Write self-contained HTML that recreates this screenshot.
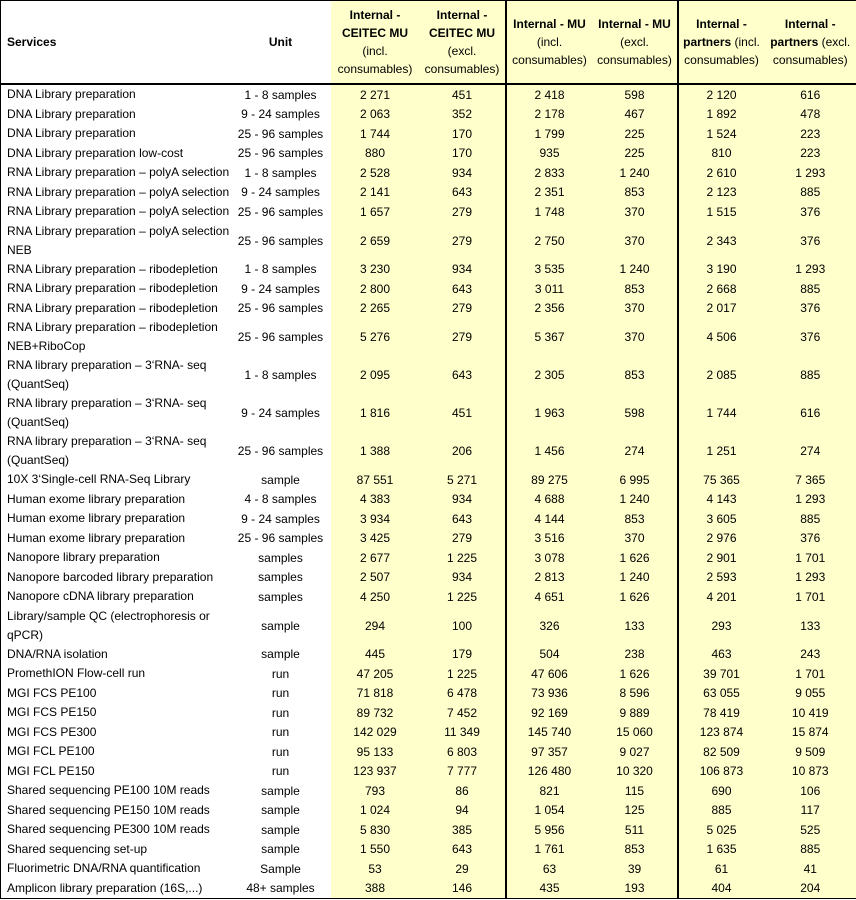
<!DOCTYPE html>
<html><head><meta charset="utf-8"><style>
body{margin:0;background:#fff;width:856px;height:900px;overflow:hidden}
table{position:absolute;left:0;top:0;border-collapse:collapse;table-layout:fixed;width:856px;font-family:"Liberation Sans",sans-serif;font-size:12px;color:#000;border:1px solid #000}
td{padding:0;white-space:nowrap;text-align:center;line-height:18px;vertical-align:middle;overflow:hidden}
td:nth-child(n+3){background:#ffffcc}
td:nth-child(1){text-align:left;padding-left:6px;white-space:normal;line-height:19px}
td:nth-child(4),td:nth-child(6){border-right:2px solid #000}
tr.h td{border-bottom:2px solid #000;height:82px;font-size:12px}
tr td{height:19.5px}
tr.d td{height:37.7px}
b{font-weight:bold}
</style></head><body>
<table>
<colgroup><col style="width:230px"><col style="width:100px"><col style="width:89px"><col style="width:86px"><col style="width:87px"><col style="width:85px"><col style="width:87px"><col style="width:92px"></colgroup>
<tr class="h"><td><b>Services</b></td><td><b>Unit</b></td><td><b>Internal -<br>CEITEC MU</b><br>(incl.<br>consumables)</td><td><b>Internal -<br>CEITEC MU</b><br>(excl.<br>consumables)</td><td><b>Internal - MU</b><br>(incl.<br>consumables)</td><td><b>Internal - MU</b><br>(excl.<br>consumables)</td><td><b>Internal -</b><br><b>partners</b> (incl.<br>consumables)</td><td><b>Internal -</b><br><b>partners</b> (excl.<br>consumables)</td></tr>
<tr><td>DNA Library preparation</td><td>1 - 8 samples</td><td>2 271</td><td>451</td><td>2 418</td><td>598</td><td>2 120</td><td>616</td></tr>
<tr><td>DNA Library preparation</td><td>9 - 24 samples</td><td>2 063</td><td>352</td><td>2 178</td><td>467</td><td>1 892</td><td>478</td></tr>
<tr><td>DNA Library preparation</td><td>25 - 96 samples</td><td>1 744</td><td>170</td><td>1 799</td><td>225</td><td>1 524</td><td>223</td></tr>
<tr><td>DNA Library preparation low-cost</td><td>25 - 96 samples</td><td>880</td><td>170</td><td>935</td><td>225</td><td>810</td><td>223</td></tr>
<tr><td>RNA Library preparation – polyA selection</td><td>1 - 8 samples</td><td>2 528</td><td>934</td><td>2 833</td><td>1 240</td><td>2 610</td><td>1 293</td></tr>
<tr><td>RNA Library preparation – polyA selection</td><td>9 - 24 samples</td><td>2 141</td><td>643</td><td>2 351</td><td>853</td><td>2 123</td><td>885</td></tr>
<tr><td>RNA Library preparation – polyA selection</td><td>25 - 96 samples</td><td>1 657</td><td>279</td><td>1 748</td><td>370</td><td>1 515</td><td>376</td></tr>
<tr class="d"><td>RNA Library preparation – polyA selection NEB</td><td>25 - 96 samples</td><td>2 659</td><td>279</td><td>2 750</td><td>370</td><td>2 343</td><td>376</td></tr>
<tr><td>RNA Library preparation – ribodepletion</td><td>1 - 8 samples</td><td>3 230</td><td>934</td><td>3 535</td><td>1 240</td><td>3 190</td><td>1 293</td></tr>
<tr><td>RNA Library preparation – ribodepletion</td><td>9 - 24 samples</td><td>2 800</td><td>643</td><td>3 011</td><td>853</td><td>2 668</td><td>885</td></tr>
<tr><td>RNA Library preparation – ribodepletion</td><td>25 - 96 samples</td><td>2 265</td><td>279</td><td>2 356</td><td>370</td><td>2 017</td><td>376</td></tr>
<tr class="d"><td>RNA Library preparation – ribodepletion NEB+RiboCop</td><td>25 - 96 samples</td><td>5 276</td><td>279</td><td>5 367</td><td>370</td><td>4 506</td><td>376</td></tr>
<tr class="d"><td>RNA library preparation – 3‘RNA- seq (QuantSeq)</td><td>1 - 8 samples</td><td>2 095</td><td>643</td><td>2 305</td><td>853</td><td>2 085</td><td>885</td></tr>
<tr class="d"><td>RNA library preparation – 3‘RNA- seq (QuantSeq)</td><td>9 - 24 samples</td><td>1 816</td><td>451</td><td>1 963</td><td>598</td><td>1 744</td><td>616</td></tr>
<tr class="d"><td>RNA library preparation – 3‘RNA- seq (QuantSeq)</td><td>25 - 96 samples</td><td>1 388</td><td>206</td><td>1 456</td><td>274</td><td>1 251</td><td>274</td></tr>
<tr><td>10X 3‘Single-cell RNA-Seq Library</td><td>sample</td><td>87 551</td><td>5 271</td><td>89 275</td><td>6 995</td><td>75 365</td><td>7 365</td></tr>
<tr><td>Human exome library preparation</td><td>4 - 8 samples</td><td>4 383</td><td>934</td><td>4 688</td><td>1 240</td><td>4 143</td><td>1 293</td></tr>
<tr><td>Human exome library preparation</td><td>9 - 24 samples</td><td>3 934</td><td>643</td><td>4 144</td><td>853</td><td>3 605</td><td>885</td></tr>
<tr><td>Human exome library preparation</td><td>25 - 96 samples</td><td>3 425</td><td>279</td><td>3 516</td><td>370</td><td>2 976</td><td>376</td></tr>
<tr><td>Nanopore library preparation</td><td>samples</td><td>2 677</td><td>1 225</td><td>3 078</td><td>1 626</td><td>2 901</td><td>1 701</td></tr>
<tr><td>Nanopore barcoded library preparation</td><td>samples</td><td>2 507</td><td>934</td><td>2 813</td><td>1 240</td><td>2 593</td><td>1 293</td></tr>
<tr><td>Nanopore cDNA library preparation</td><td>samples</td><td>4 250</td><td>1 225</td><td>4 651</td><td>1 626</td><td>4 201</td><td>1 701</td></tr>
<tr class="d"><td>Library/sample QC (electrophoresis or qPCR)</td><td>sample</td><td>294</td><td>100</td><td>326</td><td>133</td><td>293</td><td>133</td></tr>
<tr><td>DNA/RNA isolation</td><td>sample</td><td>445</td><td>179</td><td>504</td><td>238</td><td>463</td><td>243</td></tr>
<tr><td>PromethION Flow-cell run</td><td>run</td><td>47 205</td><td>1 225</td><td>47 606</td><td>1 626</td><td>39 701</td><td>1 701</td></tr>
<tr><td>MGI FCS PE100</td><td>run</td><td>71 818</td><td>6 478</td><td>73 936</td><td>8 596</td><td>63 055</td><td>9 055</td></tr>
<tr><td>MGI FCS PE150</td><td>run</td><td>89 732</td><td>7 452</td><td>92 169</td><td>9 889</td><td>78 419</td><td>10 419</td></tr>
<tr><td>MGI FCS PE300</td><td>run</td><td>142 029</td><td>11 349</td><td>145 740</td><td>15 060</td><td>123 874</td><td>15 874</td></tr>
<tr><td>MGI FCL PE100</td><td>run</td><td>95 133</td><td>6 803</td><td>97 357</td><td>9 027</td><td>82 509</td><td>9 509</td></tr>
<tr><td>MGI FCL PE150</td><td>run</td><td>123 937</td><td>7 777</td><td>126 480</td><td>10 320</td><td>106 873</td><td>10 873</td></tr>
<tr><td>Shared sequencing PE100 10M reads</td><td>sample</td><td>793</td><td>86</td><td>821</td><td>115</td><td>690</td><td>106</td></tr>
<tr><td>Shared sequencing PE150 10M reads</td><td>sample</td><td>1 024</td><td>94</td><td>1 054</td><td>125</td><td>885</td><td>117</td></tr>
<tr><td>Shared sequencing PE300 10M reads</td><td>sample</td><td>5 830</td><td>385</td><td>5 956</td><td>511</td><td>5 025</td><td>525</td></tr>
<tr><td>Shared sequencing set-up</td><td>sample</td><td>1 550</td><td>643</td><td>1 761</td><td>853</td><td>1 635</td><td>885</td></tr>
<tr><td>Fluorimetric DNA/RNA quantification</td><td>Sample</td><td>53</td><td>29</td><td>63</td><td>39</td><td>61</td><td>41</td></tr>
<tr><td>Amplicon library preparation (16S,...)</td><td>48+ samples</td><td>388</td><td>146</td><td>435</td><td>193</td><td>404</td><td>204</td></tr>
</table>
</body></html>
